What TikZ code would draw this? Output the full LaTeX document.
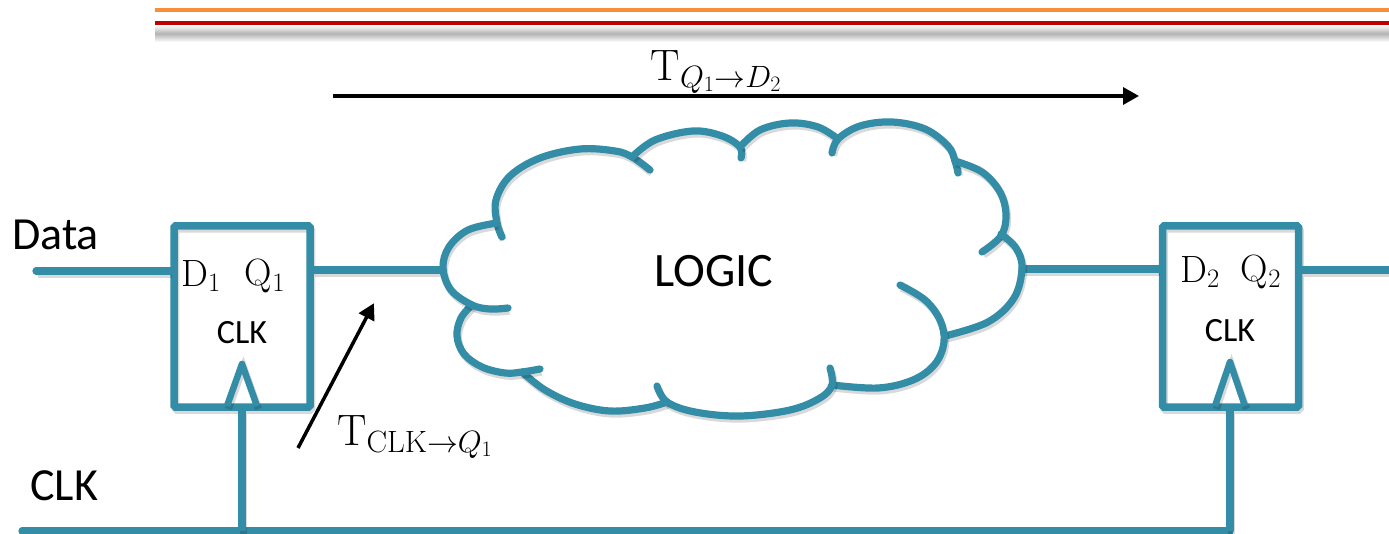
\RequirePackage{fix-cm}
\documentclass[tikz,border=0pt]{standalone}
\usepackage{fontspec}
\newfontfamily\calib{Carlito}
\usetikzlibrary{arrows.meta}
\definecolor{tealc}{RGB}{52,141,166}
\definecolor{orangec}{RGB}{247,142,60}
\definecolor{redc}{RGB}{192,0,0}
\tikzset{
  tl/.style={draw=tealc, line width=7.2pt, line cap=round, line join=round,
    preaction={draw=black, opacity=0.15, line width=7.2pt, transform canvas={xshift=1.5pt, yshift=-3pt}}},
  cloudp/.style={tl, smooth, tension=0.6},
  ffbox/.style={draw=tealc, line width=7.5pt, rounded corners=1.5pt, minimum width=136pt, minimum height=181pt, inner sep=0pt,
    preaction={draw=black, opacity=0.15, transform canvas={xshift=1.5pt, yshift=-3pt}}},
  blk/.style={draw=black, line width=3.5pt, -{Triangle[length=16pt,width=17pt]}, shorten >=-2pt},
  lbl/.style={inner sep=0pt, text=black},
}
\begin{document}
\begin{tikzpicture}[x=1pt,y=-1pt]
\useasboundingbox (0,0) rectangle (1389,534);
% top decorative band
\shade[top color=white, bottom color=white, middle color=black!30] (155,25) rectangle (1389,42);
\draw[redc, line width=3.2pt] (155,23) -- (1389,23);
\draw[orangec, line width=3.2pt] (155,10) -- (1389,10);

% flip-flops
\node[ffbox] (ff1) at (242,316.5) {};
\node[ffbox] (ff2) at (1230.5,316.5) {};
\node[lbl, font=\fontsize{38}{40}\selectfont] (d1) at (201,276) {$\mathrm{D}_1$};
\node[lbl, font=\fontsize{38}{40}\selectfont] (q1) at (265,276) {$\mathrm{Q}_1$};
\node[lbl, font=\calib\fontsize{34}{36}\selectfont] (c1) at (242,333) {CLK};
\node[lbl, font=\fontsize{38}{40}\selectfont] (d2) at (1200,272) {$\mathrm{D}_2$};
\node[lbl, font=\fontsize{38}{40}\selectfont] (q2) at (1261,272) {$\mathrm{Q}_2$};
\node[lbl, font=\calib\fontsize{34}{36}\selectfont] (c2) at (1230,331) {CLK};

% clock triangles
\coordinate (t1a) at (227,406); \coordinate (t1b) at (242,364); \coordinate (t1c) at (257,406);
\draw[tl, line width=6.5pt, line cap=butt] (t1a) -- (t1b) -- (t1c);
\coordinate (t2a) at (1215,406); \coordinate (t2b) at (1230,362); \coordinate (t2c) at (1245,406);
\draw[tl, line width=6.5pt, line cap=butt] (t2a) -- (t2b) -- (t2c);

% texts
\node[lbl, font=\calib\fontsize{46}{48}\selectfont, anchor=base west] (data) at (12,250) {Data};
\node[lbl, font=\calib\fontsize{46}{48}\selectfont, anchor=base west] (clk) at (30,500) {CLK};
\node[lbl, font=\calib\fontsize{48}{50}\selectfont] (logic) at (714,271) {LOGIC};

% wires
\coordinate (din) at (36,271);
\coordinate (cl) at (443,270);
\coordinate (cr) at (1022,269);
\coordinate (qout) at (1389,270);
\coordinate (clkin) at (22,531);
\draw[tl] (din) -- (din -| ff1.west);
\draw[tl] (ff1.east |- cl) -- (cl);
\draw[tl] (cr) -- (cr -| ff2.west);
\draw[tl, line cap=butt] (ff2.east |- qout) -- (qout);
\coordinate (k1) at (242,531);
\coordinate (k2) at (1230,531);
\draw[tl] (clkin) -- (k2);
\draw[tl, line cap=butt] (k1) -- (k1 |- ff1.south);
\draw[tl, line cap=butt] (k2) -- (k2 |- ff2.south);

% cloud
\draw[cloudp] plot coordinates {(502,237) (497,223) (496,200) (510,176) (540,158) (580,149) (615,151) (632,157) (650,170)};
\draw[cloudp] plot coordinates {(632,157) (655,140) (693,131) (722,136) (740,147) (741,158)};
\draw[cloudp] plot coordinates {(740,147) (760,130) (790,123) (818,127) (838,139)};
\draw[cloudp] plot coordinates {(832,153) (838,139) (860,126) (892,122) (925,129) (948,146) (955,161) (958,173)};
\draw[cloudp] plot coordinates {(955,161) (982,172) (1000,192) (1006,215) (1001,236) (982,252)};
\draw[cloudp] plot coordinates {(1001,234) (1016,248) (1022,268) (1014,298) (988,322) (945,336)};
\draw[cloudp] plot coordinates {(900,285) (925,300) (940,320) (944,342) (935,364) (913,380) (878,388) (832,385)};
\draw[cloudp] plot coordinates {(830,368) (832,385) (820,398) (790,410) (740,416) (695,412) (667,402) (657,386)};
\draw[cloudp] plot coordinates {(522,372) (545,390) (575,404) (610,411) (645,408) (667,402)};
\draw[cloudp] plot coordinates {(472,305) (461,318) (457,336) (464,354) (482,367) (505,373) (522,372) (540,369)};
\draw[cloudp] plot coordinates {(497,223) (468,230) (449,247) (443,268) (451,290) (472,305) (490,309) (508,308)};

% timing arrows
\coordinate (a1) at (333,96);
\coordinate (a2) at (1137,96);
\draw[blk] (a1) -- (a2);
\node[lbl, font=\fontsize{44}{46}\selectfont] (tqd) at (716,72) {$\mathrm{T}_{Q_1\rightarrow D_2}$};
\coordinate (b1) at (298,448);
\coordinate (b2) at (373,305);
\draw[blk] (b1) -- (b2);
\node[lbl, font=\fontsize{44}{46}\selectfont] (tcq) at (415,437) {$\mathrm{T}_{\mathrm{CLK}\rightarrow Q_1}$};
\end{tikzpicture}
\end{document}
